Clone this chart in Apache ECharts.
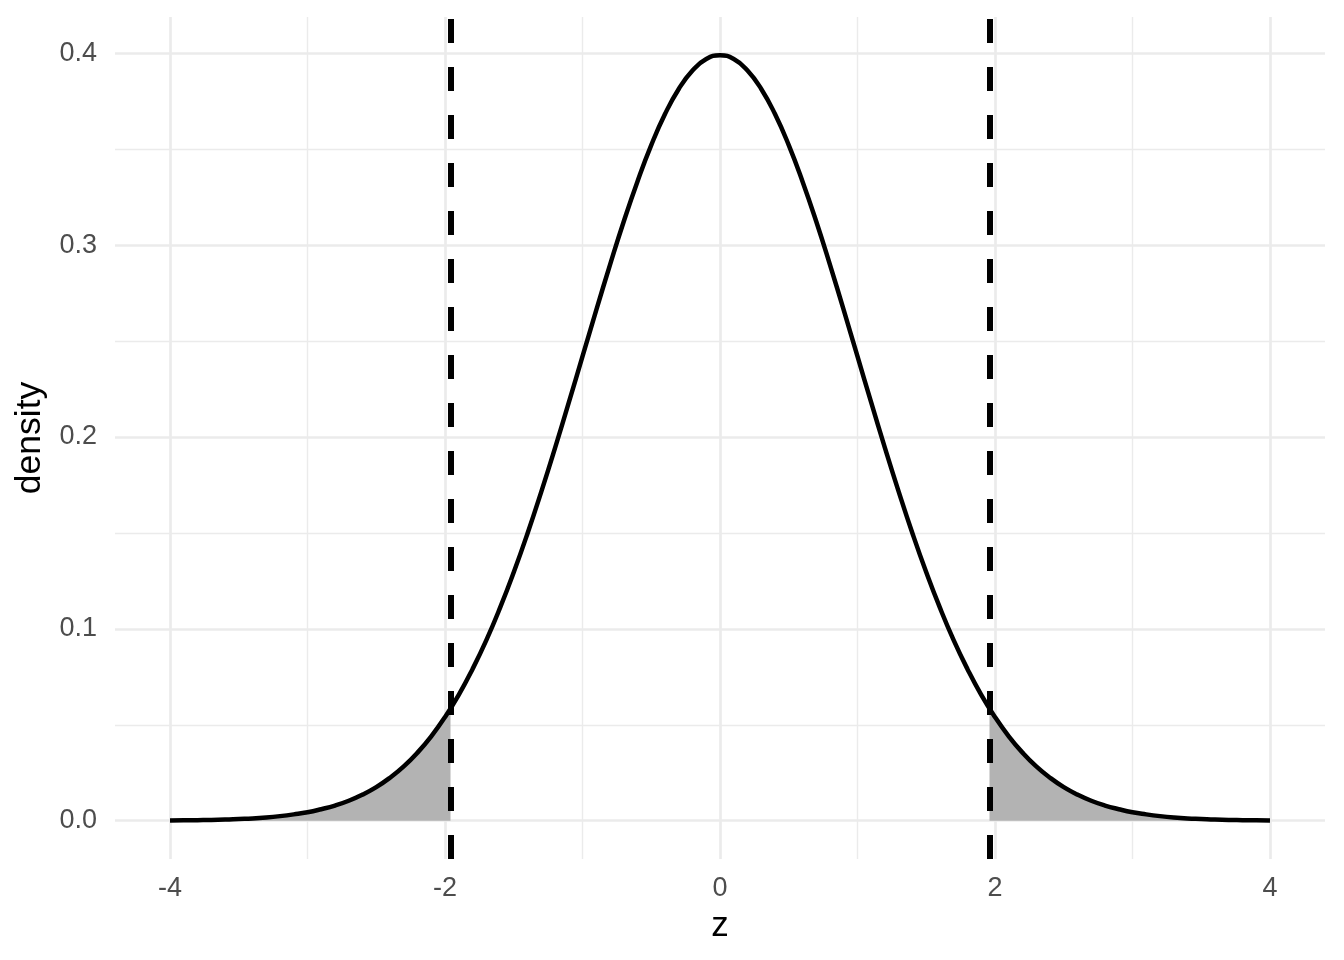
<!DOCTYPE html>
<html>
<head>
<meta charset="utf-8">
<script src="https://cdn.jsdelivr.net/npm/echarts@6/dist/echarts.min.js"></script>
<style>
  html, body { margin: 0; padding: 0; background: #fff; }
  #chart { width: 1344px; height: 960px; }
</style>
</head>
<body>
<div id="chart"></div>
<script>
// curve, z from -4 to 4
const zValues = [-4, -3.9, -3.8, -3.7, -3.6, -3.5, -3.4, -3.3, -3.2, -3.1,
  -3, -2.9, -2.8, -2.7, -2.6, -2.5, -2.4, -2.3, -2.2, -2.1,
  -2, -1.9, -1.8, -1.7, -1.6, -1.5, -1.4, -1.3, -1.2, -1.1,
  -1, -0.9, -0.8, -0.7, -0.6, -0.5, -0.4, -0.3, -0.2, -0.1,
  0, 0.1, 0.2, 0.3, 0.4, 0.5, 0.6, 0.7, 0.8, 0.9,
  1, 1.1, 1.2, 1.3, 1.4, 1.5, 1.6, 1.7, 1.8, 1.9,
  2, 2.1, 2.2, 2.3, 2.4, 2.5, 2.6, 2.7, 2.8, 2.9,
  3, 3.1, 3.2, 3.3, 3.4, 3.5, 3.6, 3.7, 3.8, 3.9, 4];
const density = [0.0001, 0.0002, 0.0003, 0.0004, 0.0006, 0.0009, 0.0012, 0.0017, 0.0024, 0.0033,
  0.0044, 0.0060, 0.0079, 0.0104, 0.0136, 0.0175, 0.0224, 0.0283, 0.0355, 0.0440,
  0.0540, 0.0656, 0.0790, 0.0940, 0.1109, 0.1295, 0.1497, 0.1714, 0.1942, 0.2179,
  0.2420, 0.2661, 0.2897, 0.3123, 0.3332, 0.3521, 0.3683, 0.3814, 0.3910, 0.3970,
  0.3989, 0.3970, 0.3910, 0.3814, 0.3683, 0.3521, 0.3332, 0.3123, 0.2897, 0.2661,
  0.2420, 0.2179, 0.1942, 0.1714, 0.1497, 0.1295, 0.1109, 0.0940, 0.0790, 0.0656,
  0.0540, 0.0440, 0.0355, 0.0283, 0.0224, 0.0175, 0.0136, 0.0104, 0.0079, 0.0060,
  0.0044, 0.0033, 0.0024, 0.0017, 0.0012, 0.0009, 0.0006, 0.0004, 0.0003, 0.0002, 0.0001];

// critical values (dashed lines) and the density there
const cutoffs = [-1.96, 1.96];
const cutoffDensity = [0.0584, 0.0584];

// tick labels
const xTicks = [-4, -2, 0, 2, 4];
const xMinor = [-3, -1, 1, 3];
const yTicks = [0, 0.1, 0.2, 0.3, 0.4];
const yMinor = [0.05, 0.15, 0.25, 0.35];

const curve = zValues.map((z, i) => [z, density[i]]);
const leftTail = curve.filter(p => p[0] < cutoffs[0]).concat([[cutoffs[0], cutoffDensity[0]]]);
const rightTail = [[cutoffs[1], cutoffDensity[1]]].concat(curve.filter(p => p[0] > cutoffs[1]));

const font = 'Liberation Sans, Arial, sans-serif';
const gridColor = '#ebebeb';

// grid lines go in as markLines so the panel can keep ggplot's padding
const gridLines = []
  .concat(xTicks.map(v => ({ xAxis: v, lineStyle: { width: 2.7 } })))
  .concat(xMinor.map(v => ({ xAxis: v, lineStyle: { width: 1.4 } })))
  .concat(yTicks.map(v => ({ yAxis: v, lineStyle: { width: 2.7 } })))
  .concat(yMinor.map(v => ({ yAxis: v, lineStyle: { width: 1.4 } })));

const chart = echarts.init(document.getElementById('chart'));
const option = {
  animation: false,
  backgroundColor: '#fff',
  grid: { left: 115, right: 19, top: 17, bottom: 101 },
  xAxis: {
    type: 'value',
    min: -4.4,
    max: 4.4,
    axisLine: { show: false },
    axisTick: { show: false },
    splitLine: { show: false },
    axisLabel: {
      customValues: xTicks,
      color: '#4d4d4d',
      fontSize: 27,
      fontFamily: font,
      margin: 16
    },
    name: 'z',
    nameLocation: 'middle',
    nameGap: 50,
    nameTextStyle: { color: '#000', fontSize: 35, fontFamily: font }
  },
  yAxis: {
    type: 'value',
    min: -0.01995,
    max: 0.41889,
    axisLine: { show: false },
    axisTick: { show: false },
    splitLine: { show: false },
    axisLabel: {
      customValues: yTicks,
      formatter: v => v.toFixed(1),
      color: '#4d4d4d',
      fontSize: 27,
      fontFamily: font,
      margin: 18
    },
    name: 'density',
    nameLocation: 'middle',
    nameRotate: 90,
    nameGap: 66,
    nameTextStyle: { color: '#000', fontSize: 35.5, fontFamily: font }
  },
  series: [
    {
      type: 'line',
      data: [],
      z: 0,
      silent: true,
      markLine: {
        z: 0,
        silent: true,
        symbol: ['none', 'none'],
        label: { show: false },
        lineStyle: { color: gridColor, type: 'solid' },
        data: gridLines
      }
    },
    {
      type: 'line',
      data: leftTail,
      smooth: true,
      symbol: 'none',
      z: 2,
      lineStyle: { width: 0, opacity: 0 },
      areaStyle: { color: '#b3b3b3', opacity: 1 }
    },
    {
      type: 'line',
      data: rightTail,
      smooth: true,
      symbol: 'none',
      z: 2,
      lineStyle: { width: 0, opacity: 0 },
      areaStyle: { color: '#b3b3b3', opacity: 1 }
    },
    {
      type: 'line',
      data: curve,
      smooth: true,
      symbol: 'none',
      z: 4,
      lineStyle: { color: '#000', width: 4.5 }
    },
    {
      type: 'line',
      data: [],
      z: 5,
      silent: true,
      markLine: {
        z: 5,
        silent: true,
        symbol: ['none', 'none'],
        label: { show: false },
        lineStyle: { color: '#000', width: 6, type: [24, 24] },
        data: cutoffs.map(v => ({ xAxis: v }))
      }
    }
  ]
};
chart.setOption(option);
</script>
</body>
</html>
